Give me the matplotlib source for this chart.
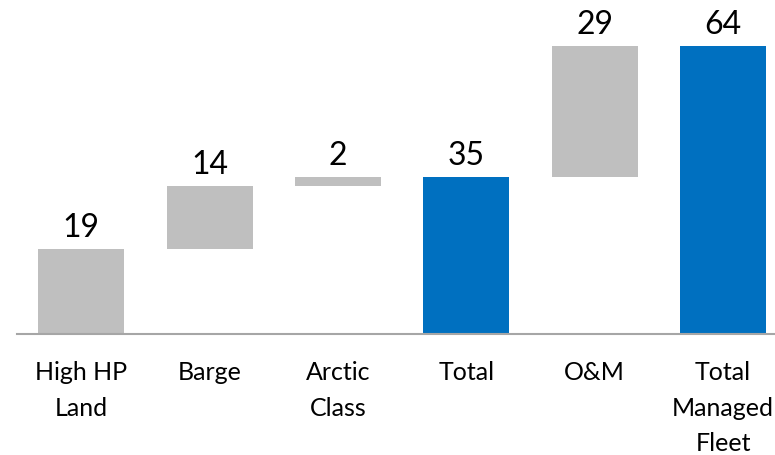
import numpy as np
import matplotlib.pyplot as plt

plt.rcParams["font.family"] = ["Lato", "DejaVu Sans"]

categories = ["High HP\nLand", "Barge", "Arctic\nClass", "Total", "O&M", "Total\nManaged\nFleet"]
values = [19, 14, 2, 35, 29, 64]
is_total = [False, False, False, True, False, True]

grey = "#BFBFBF"
blue = "#0070C0"

# waterfall bottoms: totals start at zero, steps start at running sum
bottoms = []
running = 0
for v, t in zip(values, is_total):
    if t:
        bottoms.append(0)
        running = v
    else:
        bottoms.append(running)
        running += v
colors = [blue if t else grey for t in is_total]

fig = plt.figure(figsize=(7.75, 4.56), dpi=100)
ax = fig.add_axes([17 / 775, 121 / 456, 758 / 775, 288 / 456])

x = np.arange(len(categories))
ax.bar(x, values, bottom=bottoms, width=0.67, color=colors)

for xi, v, b in zip(x, values, bottoms):
    ax.annotate(str(v), (xi, b + v), xytext=(0, 5), textcoords="offset points",
                ha="center", va="bottom", fontsize=23, annotation_clip=False)

ax.set_xlim(-0.5, 5.405)
ax.set_ylim(0, 64)
ax.set_xticks(x)
ax.set_xticklabels(categories, fontsize=18, linespacing=1.65)
ax.tick_params(axis="x", length=0, pad=19)
ax.set_yticks([])
for s in ["top", "left", "right"]:
    ax.spines[s].set_visible(False)
ax.spines["bottom"].set_color("#A6A6A6")
ax.spines["bottom"].set_linewidth(1.5)

plt.savefig("out.png", dpi=100)
